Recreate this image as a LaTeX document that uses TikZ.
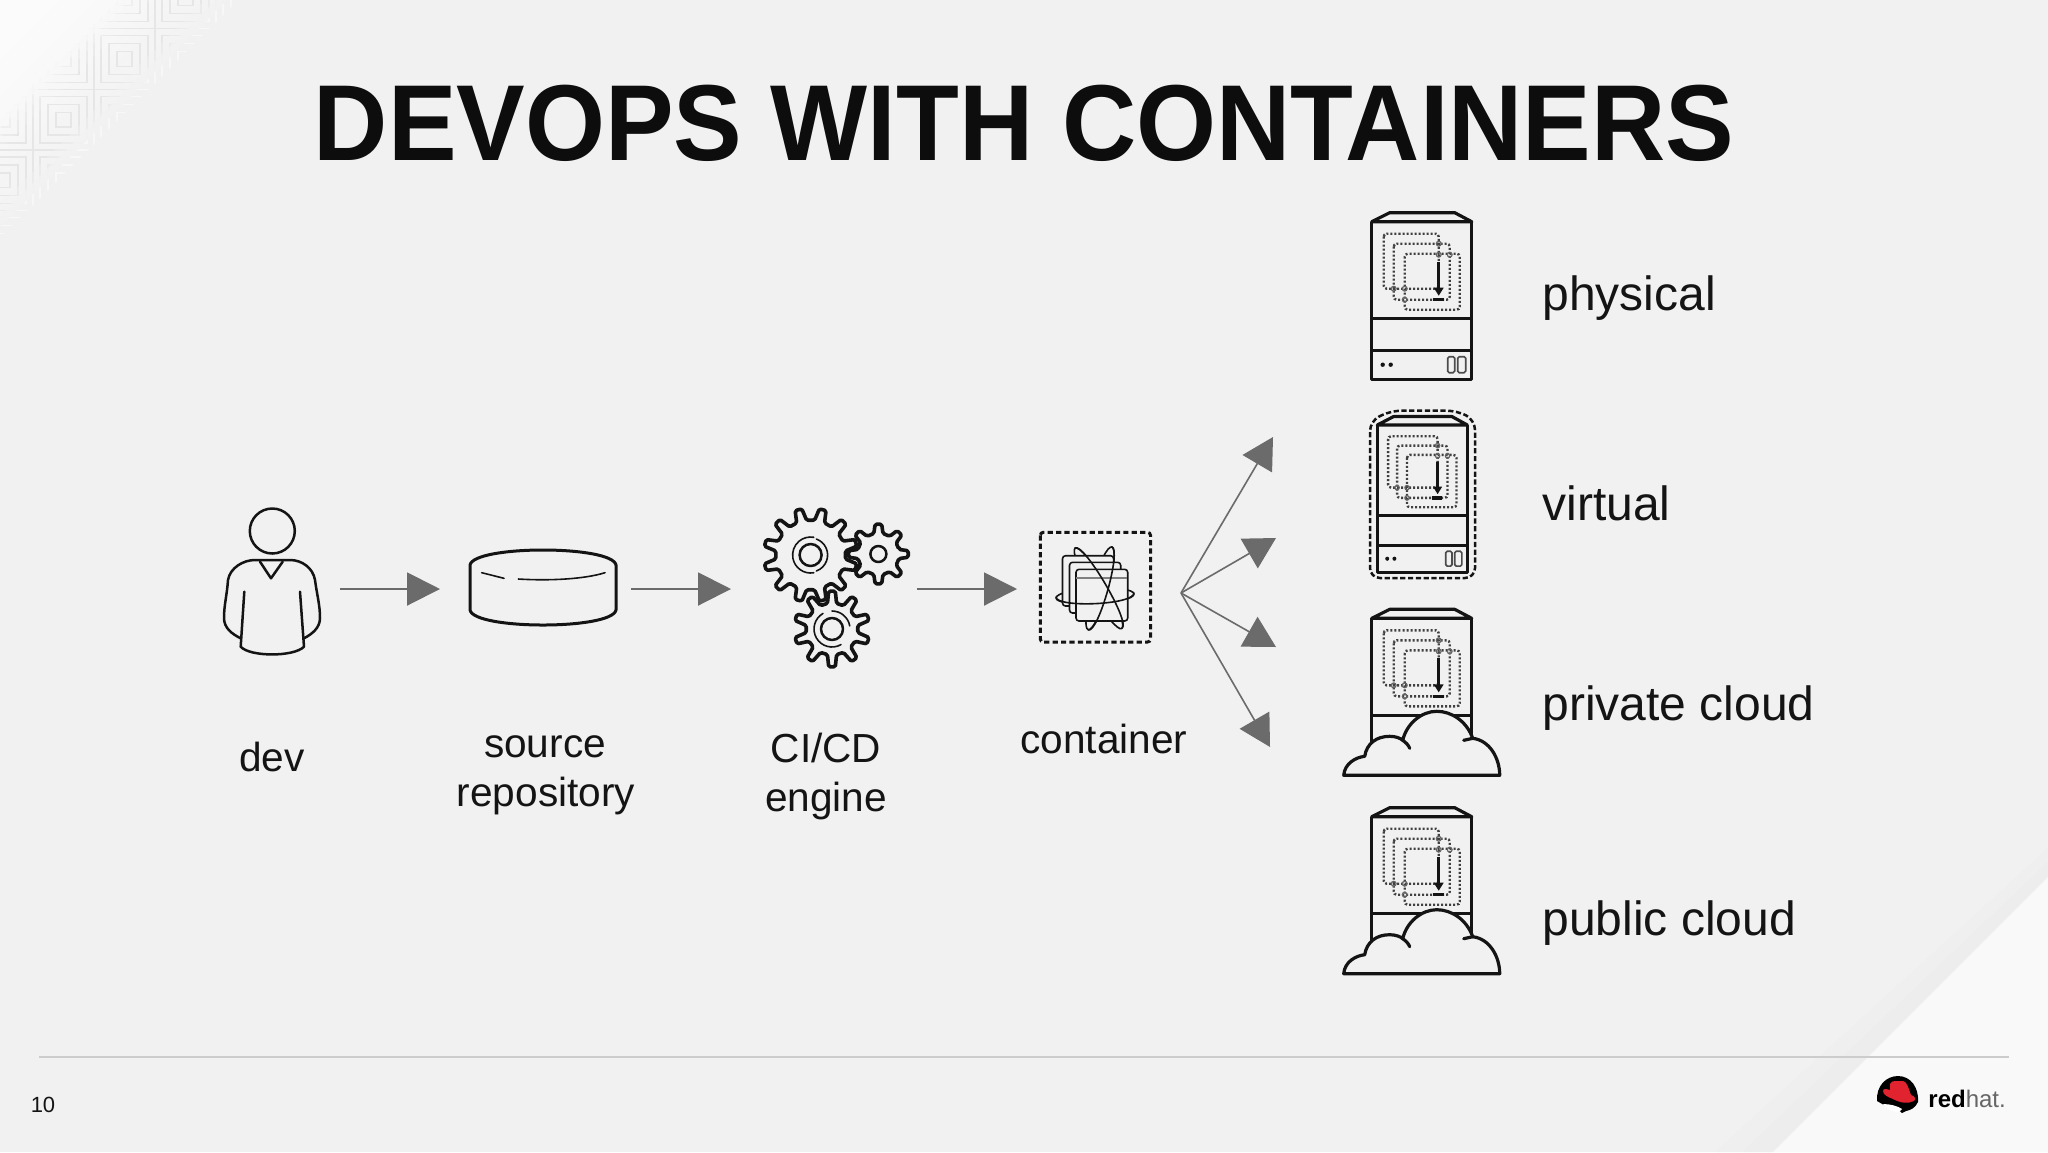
\documentclass[tikz,border=0pt]{standalone}
\usepackage{fontspec}
\setmainfont{Liberation Sans}
\usetikzlibrary{arrows.meta}
\definecolor{bgc}{HTML}{F1F1F1}
\definecolor{inkc}{HTML}{141414}
\definecolor{arrowc}{HTML}{6B6B6B}
\definecolor{patc}{HTML}{E6E6E6}
\definecolor{cornerc}{HTML}{FBFBFB}
\definecolor{hatred}{HTML}{E0232E}
\tikzset{
  iconbox/.style={inner sep=0pt,outer sep=0pt,minimum height=60pt},
  flow/.style={draw=arrowc,line width=1pt,-{Triangle[length=16.5pt,width=16.5pt,fill=arrowc]}},
  fan/.style={draw=arrowc,line width=.8pt,-{Triangle[length=15.5pt,width=17pt,fill=arrowc]}},
  lbl/.style={inner sep=0pt,anchor=base,text=inkc,font=\fontsize{20.3}{24}\selectfont},
  biglbl/.style={inner sep=0pt,anchor=base west,text=inkc,font=\fontsize{24}{29}\selectfont},
  heavy/.style={draw=inkc,line width=1.6pt,line join=round},
  mid/.style={draw=inkc,line width=1.25pt,line cap=round,line join=round},
  thinl/.style={draw=inkc,line width=.8pt,line cap=round,line join=round},
  dots/.style={draw=black!75,line width=1.2pt,dash pattern=on 1pt off 1pt,rounded corners=1.5pt},
}
% server head: top, container squares, first divider
\newcommand\srvhead{%
  \draw[heavy] (0,0) -- (18,-9) -- (83,-9) -- (100,0) -- cycle;
  \draw[dots] (12,12) rectangle (67,67);
  \draw[dots] (22,22) rectangle (78,78);
  \draw[dots] (33,32) rectangle (88,88);
  \foreach \p in {(67,22),(67,33),(78,33),(22,67),(33,67),(33,78)}
    \draw[black!60,line width=.6pt] \p circle [radius=2.4];
  \draw[inkc,line width=1.7pt] (67,40) -- (67,68);
  \fill[inkc] (62,66) -- (72,66) -- (67,74) -- cycle;
  \draw[inkc,line width=1.6pt] (61,78) -- (72,78);
  \draw[heavy] (0,97) -- (100,97);
}
\newcommand\srvbase{%
  \draw[heavy] (0,0) -- (0,158) -- (100,158) -- (100,0);
  \draw[heavy] (0,129) -- (100,129);
  \fill[inkc] (11,143) circle [radius=2.2];
  \fill[inkc] (19,143) circle [radius=2.2];
  \draw[black!70,line width=.8pt,rounded corners=.8pt] (76,135) rectangle (83,151);
  \draw[black!70,line width=.8pt,rounded corners=.8pt] (86,135) rectangle (94,151);
}
\newcommand\srvcloud{%
  \draw[heavy] (0,0) -- (0,125);
  \draw[heavy] (100,0) -- (100,120);
  \draw[heavy,fill=bgc] (-28,157) .. controls (-27,145) and (-16,139) .. (-7,138)
     .. controls (-5,125) and (5,118) .. (18,118)
     .. controls (24,118) and (29,120) .. (31,122)
     .. controls (35,105) and (50,93) .. (65,93)
     .. controls (80,93) and (95,103) .. (101,120)
     .. controls (118,122) and (128,140) .. (128,157) -- cycle;
  \draw[heavy,line cap=round] (31,122) .. controls (34,124) and (37,127) .. (38,130);
  \draw[heavy,line cap=round] (92,122) -- (101,120);
}
% #1 cx, #2 cy, #3 r out, #4 r in, #5 teeth, #6 phase
\newcommand\gearshape[6]{%
  \begin{scope}[shift={(#1,#2)}]
  \draw[heavy,line width=1.8pt,rounded corners=.8pt] ({#6-.28*360/#5}:#4)
    \foreach \i in {0,...,\numexpr#5-1\relax} {
      -- ({#6+\i*360/#5-.28*360/#5}:#4)
      -- ({#6+\i*360/#5-.14*360/#5}:#3)
      -- ({#6+\i*360/#5+.14*360/#5}:#3)
      -- ({#6+\i*360/#5+.28*360/#5}:#4)
    } -- cycle;
  \end{scope}%
}
% diagonal band of the corner pattern
\newcommand\patband[3]{%
  \begin{scope}
  \clip (#1,0) -- (#2,0) -- (0,#2) -- (0,#1) -- cycle;
  \foreach \k in {0,...,4} \foreach \l in {0,...,4} {
    \pgfmathsetmacro\xa{-28+61*\k}
    \pgfmathsetmacro\ya{-32+60.6*\l}
    \foreach \t in {0,7,15,23}
      \draw[patc!#3!cornerc,line width=.7pt] ({\xa+\t},{\ya+\t}) rectangle ({\xa+61-\t},{\ya+60.6-\t});
  }
  \end{scope}%
}
\begin{document}
\begin{tikzpicture}[x=.5pt,y=-.5pt]
\useasboundingbox (0,0) rectangle (2048,1152);
\clip (0,0) rectangle (2048,1152);
\fill[bgc] (0,0) rectangle (2048,1152);
% corner glow
\foreach \s/\m in {240/0,228/8,216/16,204/24,192/32,180/40,168/48,156/56,144/63,132/70,120/76,108/82,96/87,84/91,72/94,60/97,48/100}
  \fill[cornerc!\m!bgc] (0,0) -- (\s,0) -- (0,\s) -- cycle;
\patband{118}{128}{25}
\patband{128}{138}{55}
\patband{138}{150}{80}
\patband{150}{205}{100}
\patband{205}{216}{75}
\patband{216}{227}{45}
\patband{227}{238}{18}
% lower right wedge
\fill[black!.8!bgc] (2048,848) -- (2048,877) -- (1773,1152) -- (1715,1152) -- cycle;
\fill[black!1.6!bgc] (2048,862) -- (2048,877) -- (1773,1152) -- (1742,1152) -- cycle;
\fill[white!60!bgc] (2048,877) -- (2048,1152) -- (1773,1152) -- cycle;
% footer
\draw[draw=black!20,line width=1pt] (39,1057) -- (2009,1057);
\node[inner sep=0pt,anchor=base,text=inkc,font=\fontsize{11}{13}\selectfont] (pageno) at (43,1112) {10};
% title
\node[inner sep=0pt,anchor=base,text=black!95,font=\fontsize{54}{60}\bfseries\selectfont] (title) at (1024,160) {\scalebox{.952}[1]{DEVOPS WITH CONTAINERS}};
% invisible icon frames
\node[iconbox,minimum width=68pt] (dev) at (272,589) {};
\node[iconbox,minimum width=95.5pt] (repo) at (535.5,589) {};
\node[iconbox,minimum width=93pt] (ci) at (824,589) {};
\node[iconbox,minimum width=50pt] (cont) at (1067,589) {};
\coordinate (fan) at (1181,593);
\coordinate (t1) at (1273,437);
\coordinate (t2) at (1276,538);
\coordinate (t3) at (1276,647);
\coordinate (t4) at (1270,747);
\draw[flow] (dev) -- (repo);
\draw[flow] (repo) -- (ci);
\draw[flow] (ci) -- (cont);
\foreach \t in {t1,t2,t3,t4} \draw[fan] (fan) -- (\t);
% dev
\draw[mid] (272.3,531) circle [radius=22.5];
\draw[mid] (240.7,638.3) .. controls (232,634) and (224,628) .. (224,618)
   .. controls (224,605) and (227,595) .. (228,580)
   .. controls (230,568) and (243,560) .. (255,560) -- (290,560)
   .. controls (302,560) and (313,568) .. (315,580)
   .. controls (317,595) and (320,605) .. (320,618)
   .. controls (320,628) and (312,634) .. (304,638.3);
\draw[mid] (244.3,591.7) -- (240.7,646.7) .. controls (250,657) and (294,657) .. (304,646.7) -- (300,591.7);
\draw[mid] (260,561.7) -- (271,578.3) -- (282.7,561.7);
% repository
\draw[mid,line width=1.5pt] (470,565) .. controls (474,545) and (612,545) .. (616,565) -- (616,610)
   .. controls (612,630) and (474,630) .. (470,610) -- cycle;
\draw[thinl] (481.7,572.7) -- (504,578.3);
\draw[thinl] (518.3,579) .. controls (550,581) and (585,579) .. (605,572.7);
% gears
\gearshape{810.6}{555}{47}{35}{12}{15}
\gearshape{878.4}{554}{30}{21}{8}{0}
\gearshape{832}{629}{38}{26}{10}{18}
\draw[mid] (810.6,555) circle [radius=11];
\draw[thinl] (810.6,555) ++(80:18) arc (80:280:18);
\draw[thinl] (810.6,555) ++(-70:17) arc (-70:70:17);
\draw[mid] (878.4,554) circle [radius=8];
\draw[mid] (832,629) circle [radius=11];
\draw[thinl] (832,629) ++(60:18) arc (60:240:18);
\draw[thinl] (832,629) ++(270:18) arc (270:350:18);
% container
\draw[inkc,line width=1.5pt,dash pattern=on 2.6pt off 1.6pt,rounded corners=1.5pt] (1040.3,532.3) rectangle (1150.5,642);
\draw[thinl] (1095,596) ellipse [x radius=39,y radius=8,rotate=3];
\draw[thinl] (1098.5,588.3) ellipse [x radius=46.5,y radius=8,rotate=-60];
\draw[thinl] (1100,588.3) ellipse [x radius=43,y radius=8,rotate=74];
\draw[thinl,rounded corners=1.5pt,fill=bgc] (1062.5,555.7) rectangle (1113.6,606);
\draw[thinl,rounded corners=1.5pt,fill=bgc] (1069.5,562.3) rectangle (1120.7,613);
\draw[thinl,rounded corners=1.5pt,fill=bgc] (1076,569.3) rectangle (1127.7,621);
\draw[black!50,line width=.8pt] (1076,578) -- (1127,578);
\draw[thinl] (1075,548) .. controls (1084.2,542.7) and (1131,622.7) .. (1122,628);
\draw[thinl] (1111.7,546.7) .. controls (1121.9,549.6) and (1098.5,632.9) .. (1088.3,630);
\draw[thinl] (1056,597) .. controls (1056,608) and (1134,605) .. (1134,593);
% servers
\begin{scope}[shift={(1371.7,221.7)}]\srvbase\srvhead\end{scope}
\begin{scope}[shift={(1377.3,425)},xscale=.9,yscale=.935]\srvbase\srvhead\end{scope}
\draw[inkc,line width=1.25pt,dash pattern=on 2.6pt off 1.3pt,rounded corners=5pt]
  (1370,421) -- (1391,410.7) -- (1457,410.7) -- (1475,420) -- (1475,578) -- (1370,578) -- cycle;
\begin{scope}[shift={(1371.7,618.3)}]\srvhead\srvcloud\end{scope}
\begin{scope}[shift={(1371.7,816.7)}]\srvhead\srvcloud\end{scope}
% labels
\node[lbl] (ldev) at (272,771) {dev};
\node[lbl] (lsrc) at (545,757) {source};
\node[lbl] (lrepo) at (546,806) {repository};
\node[lbl] (lci) at (826,762) {CI/CD};
\node[lbl] (leng) at (826,811) {engine};
\node[lbl] (lcon) at (1104,753) {container};
\node[biglbl] (lphy) at (1542,310) {physical};
\node[biglbl] (lvir) at (1542,520) {virtual};
\node[biglbl] (lpri) at (1542,720) {private cloud};
\node[biglbl] (lpub) at (1542,935) {public cloud};
% logo
\fill[black] (1877,1101) .. controls (1876,1086) and (1886,1076) .. (1898,1076)
   .. controls (1911,1076) and (1919,1088) .. (1918,1102)
   .. controls (1915,1108) and (1911,1110) .. (1906,1111) -- (1902,1113)
   .. controls (1900,1109) and (1890,1107) .. (1884,1105) -- cycle;
\fill[hatred] (1890,1084) .. controls (1892,1079) and (1898,1082) .. (1903,1081)
   .. controls (1907,1081) and (1909,1090) .. (1911,1095)
   .. controls (1915,1096) and (1916,1099) .. (1914,1101)
   .. controls (1908,1104) and (1900,1103) .. (1893,1099)
   .. controls (1888,1097) and (1883,1095) .. (1883,1091)
   .. controls (1883,1088) and (1887,1089) .. (1890,1090) -- cycle;
\fill[white] (1883,1104) .. controls (1890,1104) and (1898,1106) .. (1902,1109)
   .. controls (1899,1114) and (1888,1112) .. (1883,1104) -- cycle;
\node[inner sep=0pt,anchor=base west,font=\fontsize{12}{14}\selectfont] (logotext) at (1928,1107)
  {\textcolor{black}{\textbf{red}}\textcolor{black!60}{hat.}};
\end{tikzpicture}
\end{document}
